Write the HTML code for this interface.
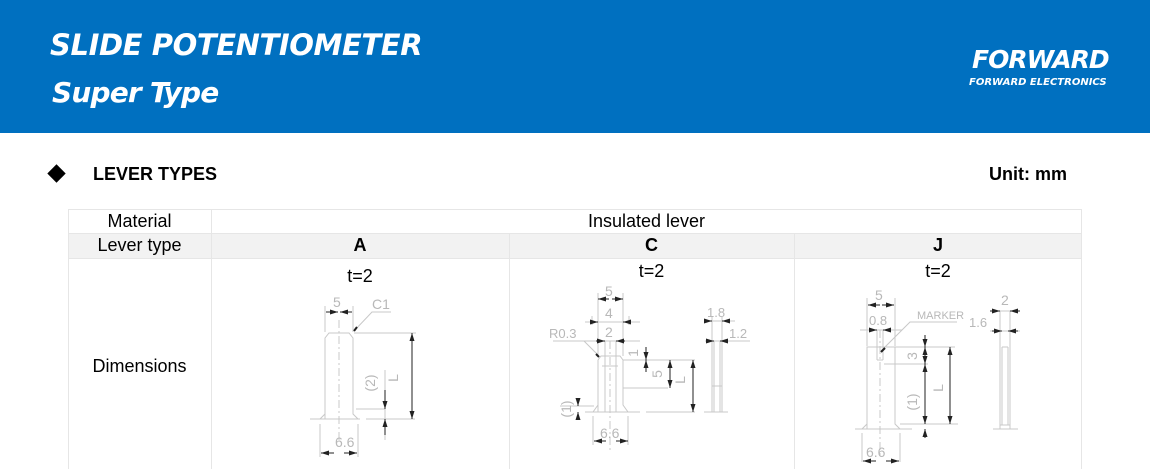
<!DOCTYPE html>
<html><head><meta charset="utf-8"><style>
html,body{margin:0;padding:0;}
body{width:1150px;height:469px;overflow:hidden;background:#fff;position:relative;font-family:"Liberation Sans",Arial,sans-serif;}
.hdr{position:absolute;left:0;top:0;width:1150px;height:133px;background:#0070c0;}
.t1,.t2{position:absolute;color:#fff;font-weight:bold;font-style:italic;font-family:"DejaVu Sans","Liberation Sans",sans-serif;}
.t1{left:50px;top:28px;font-size:29px;letter-spacing:-0.4px;}
.t2{left:52px;top:76px;font-size:28px;letter-spacing:-0.8px;}
.logo{position:absolute;left:972px;top:46px;color:#fff;font-weight:bold;font-style:italic;font-size:25px;letter-spacing:-1px;font-family:"DejaVu Sans",sans-serif;line-height:27px;}
.logo2{position:absolute;left:969px;top:77px;color:#fff;font-weight:bold;font-style:italic;font-size:10px;font-family:"DejaVu Sans",sans-serif;}
.lt{position:absolute;left:93px;top:164px;font-size:18px;font-weight:bold;}
.un{position:absolute;left:989px;top:164px;font-size:18px;font-weight:bold;}
.dia{position:absolute;left:50px;top:167px;width:13px;height:13px;background:#000;transform:rotate(45deg);}
.c{position:absolute;text-align:center;font-size:18px;}
</style></head><body>
<div class="hdr"></div>
<div class="t1">SLIDE POTENTIOMETER</div>
<div class="t2">Super Type</div>
<div class="logo">FORWARD</div>
<div class="logo2">FORWARD ELECTRONICS</div>
<div class="dia"></div>
<div class="lt">LEVER TYPES</div>
<div class="un">Unit: mm</div>
<svg style="position:absolute;left:0;top:0" width="1150" height="469">
<rect x="68" y="233" width="1014" height="25" fill="#f2f2f2"/>
<g stroke="#e6e6e6" stroke-width="1" fill="none">
<rect x="68.5" y="209.5" width="1013" height="270"/>
<line x1="68" y1="233.5" x2="1082" y2="233.5"/><line x1="68" y1="258.5" x2="1082" y2="258.5"/>
<line x1="211.5" y1="209" x2="211.5" y2="469"/>
<line x1="509.5" y1="233" x2="509.5" y2="469"/><line x1="794.5" y1="233" x2="794.5" y2="469"/>
</g>
<defs><marker id="a" markerWidth="8" markerHeight="6" refX="8" refY="3" orient="auto-start-reverse" markerUnits="userSpaceOnUse"><path d="M0,0.5 L8,3 L0,5.5z" fill="#222"/></marker></defs>
<g stroke="#c8c8c8" stroke-width="1" fill="none">
<path d="M325,419 V338 L329,333 H349 L353,338 V414 L358,419 M320,419 L325,414"/>
<line x1="310" y1="419" x2="360" y2="419"/><line x1="366" y1="419" x2="415" y2="419"/>
<line x1="339" y1="320" x2="339" y2="440" stroke-dasharray="8,3,2,3"/>
<line x1="325" y1="306" x2="325" y2="332"/><line x1="353" y1="306" x2="353" y2="332"/>
<line x1="354" y1="333" x2="416" y2="333"/>
<line x1="320" y1="424" x2="320" y2="457"/><line x1="358" y1="424" x2="358" y2="457"/>
<line x1="356" y1="409" x2="385" y2="409"/><line x1="385" y1="370" x2="385" y2="440"/>
<path d="M354,331 L372,312 H391"/>
<path d="M598,412 V360 L601,356 H620 L623,360 V405 L628,412 M593,412 L598,405"/>
<line x1="605" y1="341" x2="605" y2="412"/><line x1="616" y1="341" x2="616" y2="412"/>
<line x1="610" y1="341" x2="610" y2="450" stroke-dasharray="8,3,2,3"/>
<line x1="602" y1="366" x2="618" y2="366"/><line x1="623" y1="388" x2="668" y2="388"/>
<line x1="585" y1="412" x2="640" y2="412"/><line x1="646" y1="412" x2="695" y2="412"/>
<line x1="623" y1="360" x2="695" y2="360"/>
<line x1="598" y1="293" x2="598" y2="356"/><line x1="623" y1="293" x2="623" y2="356"/>
<line x1="592" y1="316" x2="592" y2="325"/><line x1="629" y1="316" x2="629" y2="325"/>
<line x1="585" y1="322" x2="640" y2="322"/><line x1="580" y1="341" x2="640" y2="341"/>
<line x1="593" y1="416" x2="593" y2="445"/><line x1="628" y1="416" x2="628" y2="445"/>
<path d="M598,355 L584,341 H553"/>
<line x1="560" y1="406" x2="594" y2="406"/>
<line x1="712" y1="317" x2="712" y2="412"/><line x1="722" y1="317" x2="722" y2="412"/>
<line x1="714" y1="341" x2="714" y2="412"/><line x1="720" y1="341" x2="720" y2="412"/>
<line x1="704" y1="412" x2="728" y2="412"/><line x1="705" y1="321" x2="735" y2="321"/><line x1="705" y1="341" x2="750" y2="341"/>
<line x1="712" y1="386" x2="722" y2="386"/>
<path d="M867,429 V347 H895 V424 L900,429 M862,429 L867,424"/>
<line x1="877" y1="330" x2="877" y2="360"/><line x1="883" y1="330" x2="883" y2="360"/><line x1="877" y1="360" x2="883" y2="360"/>
<line x1="880" y1="330" x2="880" y2="455" stroke-dasharray="8,3,2,3"/>
<line x1="867" y1="298" x2="867" y2="346"/><line x1="895" y1="298" x2="895" y2="346"/>
<line x1="860" y1="330" x2="902" y2="330"/>
<line x1="895" y1="347" x2="955" y2="347"/><line x1="884" y1="364" x2="928" y2="364"/>
<line x1="855" y1="429" x2="912" y2="429"/><line x1="900" y1="424" x2="958" y2="424"/>
<line x1="862" y1="433" x2="862" y2="462"/><line x1="900" y1="433" x2="900" y2="462"/>
<path d="M881,351 L910,322 H957"/>
<line x1="1000" y1="311" x2="1000" y2="429"/><line x1="1010" y1="311" x2="1010" y2="429"/>
<line x1="1002" y1="347" x2="1002" y2="425"/><line x1="1008" y1="347" x2="1008" y2="425"/>
<line x1="1002" y1="347" x2="1008" y2="347"/><line x1="1000" y1="425" x2="1010" y2="425"/>
<line x1="993" y1="429" x2="1018" y2="429"/><line x1="990" y1="311" x2="1020" y2="311"/><line x1="990" y1="331" x2="1020" y2="331"/>
</g>
<g stroke="#222" stroke-width="1" fill="none">
<line x1="326" y1="312" x2="338" y2="312" marker-end="url(#a)"/><line x1="352" y1="312" x2="340" y2="312" marker-end="url(#a)"/>
<line x1="412" y1="333" x2="412" y2="419" marker-start="url(#a)" marker-end="url(#a)"/>
<line x1="385" y1="390" x2="385" y2="409" marker-end="url(#a)"/><line x1="385" y1="435" x2="385" y2="419" marker-end="url(#a)"/>
<line x1="321" y1="453" x2="334" y2="453" marker-start="url(#a)"/><line x1="344" y1="453" x2="357" y2="453" marker-end="url(#a)"/>
<line x1="354" y1="331" x2="357" y2="327" stroke-width="2"/>
<line x1="598" y1="299" x2="609" y2="299" marker-start="url(#a)"/><line x1="612" y1="299" x2="623" y2="299" marker-end="url(#a)"/>
<line x1="590" y1="322" x2="598" y2="322" marker-end="url(#a)"/><line x1="631" y1="322" x2="623" y2="322" marker-end="url(#a)"/>
<line x1="596" y1="341" x2="605" y2="341" marker-end="url(#a)"/><line x1="625" y1="341" x2="616" y2="341" marker-end="url(#a)"/>
<line x1="646" y1="347" x2="646" y2="360" marker-end="url(#a)"/><line x1="646" y1="372" x2="646" y2="360" marker-end="url(#a)"/>
<line x1="670" y1="360" x2="670" y2="388" marker-start="url(#a)" marker-end="url(#a)"/>
<line x1="693" y1="360" x2="693" y2="412" marker-start="url(#a)" marker-end="url(#a)"/>
<line x1="578" y1="398" x2="578" y2="406" marker-end="url(#a)"/><line x1="578" y1="420" x2="578" y2="412" marker-end="url(#a)"/>
<line x1="594" y1="441" x2="606" y2="441" marker-start="url(#a)"/><line x1="616" y1="441" x2="628" y2="441" marker-end="url(#a)"/>
<line x1="596" y1="354" x2="599" y2="357" stroke-width="2"/>
<line x1="704" y1="321" x2="712" y2="321" marker-end="url(#a)"/><line x1="730" y1="321" x2="722" y2="321" marker-end="url(#a)"/>
<line x1="706" y1="341" x2="714" y2="341" marker-end="url(#a)"/><line x1="728" y1="341" x2="720" y2="341" marker-end="url(#a)"/>
<line x1="868" y1="305" x2="880" y2="305" marker-start="url(#a)"/><line x1="882" y1="305" x2="894" y2="305" marker-end="url(#a)"/>
<line x1="869" y1="330" x2="877" y2="330" marker-end="url(#a)"/><line x1="891" y1="330" x2="883" y2="330" marker-end="url(#a)"/>
<line x1="925" y1="335" x2="925" y2="347" marker-end="url(#a)"/>
<line x1="925" y1="347" x2="925" y2="364" marker-start="url(#a)" marker-end="url(#a)"/>
<line x1="925" y1="364" x2="925" y2="424" marker-start="url(#a)" marker-end="url(#a)"/>
<line x1="925" y1="438" x2="925" y2="429" marker-end="url(#a)"/>
<line x1="950" y1="347" x2="950" y2="424" marker-start="url(#a)" marker-end="url(#a)"/>
<line x1="863" y1="461" x2="876" y2="461" marker-start="url(#a)"/><line x1="886" y1="461" x2="899" y2="461" marker-end="url(#a)"/>
<line x1="881" y1="352" x2="885" y2="348" stroke-width="2"/>
<line x1="990" y1="311" x2="1000" y2="311" marker-end="url(#a)"/><line x1="1020" y1="311" x2="1010" y2="311" marker-end="url(#a)"/>
<line x1="992" y1="331" x2="1002" y2="331" marker-end="url(#a)"/><line x1="1018" y1="331" x2="1008" y2="331" marker-end="url(#a)"/>
</g>
<g fill="#b8b8b8" font-family="Liberation Sans,sans-serif" font-size="14">
<text x="333" y="307">5</text><text x="372" y="309">C1</text>
<text x="335" y="447">6.6</text>
<text transform="translate(398,378) rotate(-90)" text-anchor="middle">L</text>
<text transform="translate(375,383) rotate(-90)" text-anchor="middle">(2)</text>
<text x="605" y="296">5</text><text x="605" y="318">4</text><text x="605" y="337">2</text>
<text x="549" y="338" font-size="13">R0.3</text>
<text transform="translate(638,353) rotate(-90)" text-anchor="middle">1</text>
<text transform="translate(662,374) rotate(-90)" text-anchor="middle">5</text>
<text transform="translate(685,380) rotate(-90)" text-anchor="middle">L</text>
<text transform="translate(571,409) rotate(-90)" text-anchor="middle">(1)</text>
<text x="600" y="438">6.6</text>
<text x="707" y="317" font-size="13">1.8</text><text x="729" y="338" font-size="13">1.2</text>
<text x="875" y="300">5</text><text x="869" y="325" font-size="13">0.8</text>
<text x="917" y="319" font-size="11">MARKER</text>
<text transform="translate(917,356) rotate(-90)" text-anchor="middle">3</text>
<text transform="translate(943,388) rotate(-90)" text-anchor="middle">L</text>
<text transform="translate(917,402) rotate(-90)" text-anchor="middle">(1)</text>
<text x="866" y="457">6.6</text>
<text x="1001" y="305">2</text><text x="969" y="327" font-size="13">1.6</text>
</g>
</svg>
<div class="c" style="left:68px;top:211px;width:143px;">Material</div>
<div class="c" style="left:211px;top:211px;width:871px;">Insulated lever</div>
<div class="c" style="left:68px;top:235px;width:143px;">Lever type</div>
<div class="c" style="left:211px;top:235px;width:298px;font-weight:bold;">A</div>
<div class="c" style="left:509px;top:235px;width:285px;font-weight:bold;">C</div>
<div class="c" style="left:794px;top:235px;width:288px;font-weight:bold;">J</div>
<div class="c" style="left:68px;top:356px;width:143px;">Dimensions</div>
<div class="c" style="left:211px;top:266px;width:298px;">t=2</div>
<div class="c" style="left:509px;top:261px;width:285px;">t=2</div>
<div class="c" style="left:794px;top:261px;width:288px;">t=2</div>
</body></html>
